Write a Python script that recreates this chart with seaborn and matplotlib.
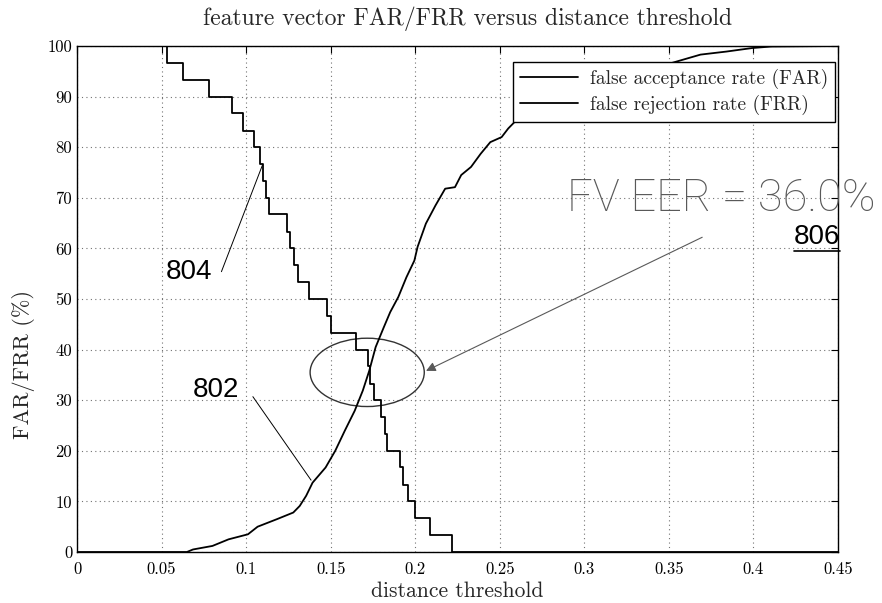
import matplotlib
matplotlib.use("Agg")
import matplotlib.pyplot as plt
import seaborn as sns
from matplotlib.patches import Ellipse
from matplotlib.lines import Line2D

# ---------------- data ----------------
far_threshold = [0.0, 0.065, 0.0686, 0.0801, 0.0896, 0.1011, 0.1068, 0.1183, 0.1279,
                 0.1317, 0.1355, 0.1393, 0.1470, 0.1527, 0.1584, 0.1642, 0.1690,
                 0.1728, 0.1766, 0.1814, 0.1852, 0.1900, 0.1948, 0.1995, 0.2014,
                 0.2063, 0.2120, 0.2177, 0.2235, 0.2272, 0.2330, 0.2387, 0.2444,
                 0.2511, 0.2550, 0.2597, 0.2800, 0.3100, 0.3400, 0.3553, 0.3687,
                 0.3840, 0.3993, 0.4106, 0.4500]
far_percent = [0.0, 0.0, 0.5, 1.2, 2.5, 3.5, 5.0, 6.5, 7.8,
               9.1, 11.1, 13.7, 16.7, 20.0, 24.0, 27.9, 31.9,
               35.8, 40.5, 44.4, 47.4, 50.4, 54.3, 57.6, 60.3,
               64.9, 68.5, 71.8, 72.1, 74.5, 76.1, 78.7, 81.0,
               82.0, 83.7, 85.3, 88.5, 92.5, 95.5, 97.0, 98.3,
               98.9, 99.6, 99.9, 100.0]

frr_threshold = [0.0, 0.0533, 0.0625, 0.0778, 0.0919, 0.0982, 0.1045, 0.1084, 0.1100,
                 0.1120, 0.1135, 0.1239, 0.1257, 0.1285, 0.1305, 0.1374, 0.1479,
                 0.1500, 0.1651, 0.1718, 0.1735, 0.1755, 0.1795, 0.1824, 0.1834,
                 0.1909, 0.1930, 0.1958, 0.2000, 0.2090, 0.2220, 0.4500]
frr_percent = [100.0, 96.7, 93.3, 90.0, 86.7, 83.3, 80.0, 76.7, 73.3,
               70.0, 66.7, 63.3, 60.0, 56.7, 53.3, 50.0, 46.7,
               43.3, 40.0, 36.7, 33.3, 30.0, 26.7, 23.3, 20.0,
               16.7, 13.3, 10.0, 6.7, 3.3, 0.0, 0.0]

x_ticks = [0, 0.05, 0.1, 0.15, 0.2, 0.25, 0.3, 0.35, 0.4, 0.45]
x_tick_labels = ["0", "0.05", "0.1", "0.15", "0.2", "0.25", "0.3", "0.35", "0.4", "0.45"]
y_ticks = [0, 10, 20, 30, 40, 50, 60, 70, 80, 90, 100]
y_tick_labels = [str(v) for v in y_ticks]

series_labels = ["false acceptance rate (FAR)", "false rejection rate (FRR)"]
title_text = "feature vector FAR/FRR versus distance threshold"
xlabel_text = "distance threshold"
ylabel_text = "FAR/FRR (%)"
eer_text = "FV EER = 36.0%"

# ---------------- style ----------------
sns.set_style("white")
plt.rcParams["font.family"] = ["cmr10", "DejaVu Serif"]
plt.rcParams["axes.formatter.use_mathtext"] = True
plt.rcParams["mathtext.fontset"] = "cm"

W, H = 882, 603
fig = plt.figure(figsize=(W / 100, H / 100), dpi=100)
ax = fig.add_axes([77 / W, 1 - 552 / H, 761 / W, 506 / H])

sns.lineplot(x=far_threshold, y=far_percent, ax=ax, color="black", linewidth=1.3,
             estimator=None, sort=False, label=series_labels[0])
sns.lineplot(x=frr_threshold, y=frr_percent, ax=ax, color="black", linewidth=1.3,
             estimator=None, sort=False, drawstyle="steps-post", label=series_labels[1])

ax.set_xlim(0, 0.45)
ax.set_ylim(0, 100)
ax.set_xticks(x_ticks)
ax.set_xticklabels(x_tick_labels)
ax.set_yticks(y_ticks)
ax.set_yticklabels(y_tick_labels)
ax.grid(True, linestyle=(0, (1, 3)), color="0.45", linewidth=0.8)
ax.tick_params(direction="in", top=True, right=True, length=5, width=0.8,
               labelsize=12, colors="black")
ax.tick_params(axis="x", pad=7)
for s in ax.spines.values():
    s.set_visible(True)
    s.set_color("black")
    s.set_linewidth(1.0)

ax.set_title(title_text, fontsize=17, pad=15, x=0.513)
ax.set_xlabel(xlabel_text, fontsize=15.5, labelpad=3)
ax.set_ylabel(ylabel_text, fontsize=16)
ax.yaxis.set_label_coords(-0.055, 0.37)

leg = ax.legend(loc="upper right", bbox_to_anchor=(1 - 3 / 761, 1 - 16 / 506),
                borderaxespad=0, fontsize=14, frameon=True, fancybox=False,
                edgecolor="black", framealpha=1, handlelength=3.0,
                handletextpad=0.6, borderpad=0.35, labelspacing=0.3)
leg.get_frame().set_linewidth(1.0)

# ---------------- annotations ----------------
ell = Ellipse((0.1716, 35.5), width=0.0675, height=13.5, fill=False,
              edgecolor="0.2", linewidth=1.0)
ax.add_patch(ell)

ax.annotate("", xy=(0.2064, 35.8), xytext=(0.3697, 62.2),
            arrowprops=dict(arrowstyle="-|>", color="0.35", lw=0.8,
                            mutation_scale=14, shrinkA=0, shrinkB=0))

ax.text(0.0662, 55.4, "804", fontsize=20, family="Liberation Sans",
        ha="center", va="center", color="black")
ax.annotate("", xy=(0.1097, 76.5), xytext=(0.0854, 55.4),
            arrowprops=dict(arrowstyle="-", color="black", lw=0.7,
                            shrinkA=0, shrinkB=0))

ax.text(0.082, 32.0, "802", fontsize=20, family="Liberation Sans",
        ha="center", va="center", color="black")
ax.annotate("", xy=(0.1384, 14.2), xytext=(0.104, 30.7),
            arrowprops=dict(arrowstyle="-", color="black", lw=0.7,
                            shrinkA=0, shrinkB=0))

ax.text(0.290, 69.9, eer_text, fontsize=32.5, family="Roboto", fontweight="light",
        ha="left", va="center", color="0.35")

t806 = ax.text(0.424, 62.3, "806", fontsize=20, family="Liberation Sans",
               ha="left", va="center", color="black")

fig.canvas.draw()
bb = t806.get_window_extent()
inv = fig.transFigure.inverted()
(x0, y0), (x1, _) = inv.transform([(bb.x0, bb.y0 - 1), (bb.x1, bb.y0 - 1)])
fig.add_artist(Line2D([x0, x1], [y0, y0], color="black", linewidth=1.2,
                      transform=fig.transFigure))

fig.savefig("out.png", dpi=100)
